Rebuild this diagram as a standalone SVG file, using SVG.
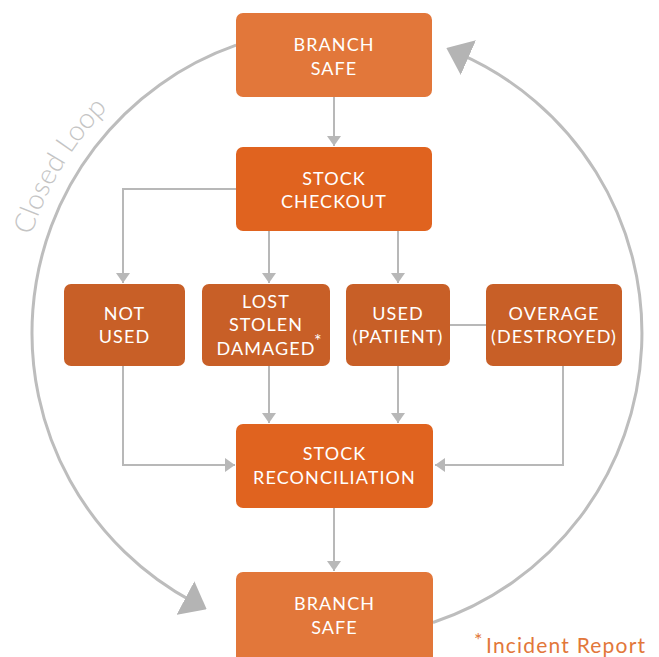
<svg xmlns="http://www.w3.org/2000/svg" width="659" height="657" viewBox="0 0 659 657">
<style>
.light{fill:#E2773A}
.main{fill:#E0631F}
.mid{fill:#C85F27}
.lbl{font-family:Lato,"Liberation Sans",sans-serif;font-size:18px;fill:#FFFFFF;text-anchor:middle;letter-spacing:1.1px}
.conn{fill:none;stroke:#B8B8B8;stroke-width:2}
.loop{fill:none;stroke:#BDBDBD;stroke-width:3}
</style>
<defs>
<marker id="ah" markerUnits="userSpaceOnUse" markerWidth="10" markerHeight="14" refX="10" refY="7" orient="auto">
<path d="M0,0 L10,7 L0,14 z" fill="#B8B8B8"/>
</marker>
<marker id="big" markerUnits="userSpaceOnUse" markerWidth="24" markerHeight="38" refX="10" refY="19" orient="auto">
<path d="M0,0 L24,19 L0,38 z" fill="#B4B4B4"/>
</marker>
<path id="loopText" d="M25.9,254.8 A321,321 0 0 1 176.5,55"/>
</defs>
<g id="loop">
<path class="loop" d="M236.1,45.2 A305,305 0 0 0 194.3,602.6" marker-end="url(#big)"/>
<path class="loop" d="M433,622.5 A305,305 0 0 0 459.2,53.6" marker-end="url(#big)"/>
<text font-family="Lato,'Liberation Sans',sans-serif" font-size="28" font-weight="300" fill="#C4C4C4"><textPath href="#loopText" startOffset="20">Closed Loop</textPath></text>
</g>
<g id="connectors">
<path class="conn" d="M334,97 V146" marker-end="url(#ah)"/>
<path class="conn" d="M236,189 H123 V283" marker-end="url(#ah)"/>
<path class="conn" d="M269,231 V283" marker-end="url(#ah)"/>
<path class="conn" d="M398,231 V283" marker-end="url(#ah)"/>
<path class="conn" d="M450,325 H486"/>
<path class="conn" d="M123,366 V465 H235" marker-end="url(#ah)"/>
<path class="conn" d="M269,366 V423" marker-end="url(#ah)"/>
<path class="conn" d="M398,366 V423" marker-end="url(#ah)"/>
<path class="conn" d="M563,366 V465 H435" marker-end="url(#ah)"/>
<path class="conn" d="M334,508 V571" marker-end="url(#ah)"/>
</g>
<g id="branch-safe-top">
<rect class="light" x="236" y="13" width="196" height="84" rx="7"/>
<text class="lbl" x="334" y="51">BRANCH</text>
<text class="lbl" x="334" y="75">SAFE</text>
</g>
<g id="stock-checkout">
<rect class="main" x="236" y="147" width="196" height="84" rx="7"/>
<text class="lbl" x="334" y="185">STOCK</text>
<text class="lbl" x="334" y="208">CHECKOUT</text>
</g>
<g id="not-used">
<rect class="mid" x="64" y="284" width="121" height="82" rx="7"/>
<text class="lbl" x="124.5" y="320">NOT</text>
<text class="lbl" x="124.5" y="343">USED</text>
</g>
<g id="lost-stolen-damaged">
<rect class="mid" x="202" y="284" width="128" height="82" rx="7"/>
<text class="lbl" x="266" y="308">LOST</text>
<text class="lbl" x="266" y="331">STOLEN</text>
<text class="lbl" x="266" y="355" font-size="17" letter-spacing="0.5">DAMAGED</text>
<text x="314" y="347" font-family="Lato,'Liberation Sans',sans-serif" font-size="18" fill="#FFFFFF">*</text>
</g>
<g id="used-patient">
<rect class="mid" x="346" y="284" width="104" height="82" rx="7"/>
<text class="lbl" x="398" y="320">USED</text>
<text class="lbl" x="398" y="343">(PATIENT)</text>
</g>
<g id="overage-destroyed">
<rect class="mid" x="486" y="284" width="136" height="82" rx="7"/>
<text class="lbl" x="554" y="320">OVERAGE</text>
<text class="lbl" x="554" y="343">(DESTROYED)</text>
</g>
<g id="stock-reconciliation">
<rect class="main" x="236" y="424" width="197" height="84" rx="7"/>
<text class="lbl" x="334.5" y="460">STOCK</text>
<text class="lbl" x="334.5" y="484">RECONCILIATION</text>
</g>
<g id="branch-safe-bottom">
<rect class="light" x="236" y="572" width="197" height="95" rx="7"/>
<text class="lbl" x="334.5" y="610">BRANCH</text>
<text class="lbl" x="334.5" y="634">SAFE</text>
</g>
<g id="footnote">
<text x="474" y="647" font-family="Lato,'Liberation Sans',sans-serif" font-size="20" fill="#E2773A">*</text>
<text x="486" y="653" font-family="Lato,'Liberation Sans',sans-serif" font-size="21" fill="#E2773A" letter-spacing="1.2">Incident Report</text>
</g>
</svg>
